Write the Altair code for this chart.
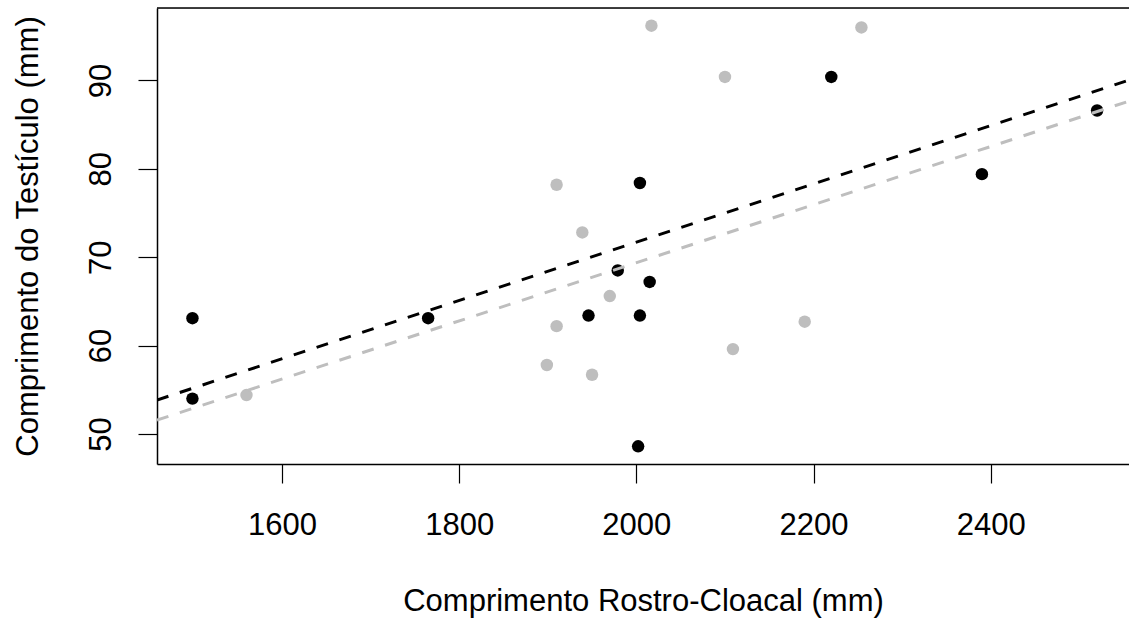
import altair as alt
import pandas as pd

# Data
black_x = [1499, 1499, 1765, 1946, 1979, 2004, 2004, 2015, 2002, 2220, 2390, 2520]
black_y = [63.1, 54.0, 63.1, 63.4, 68.5, 78.4, 63.4, 67.2, 48.6, 90.4, 79.4, 86.6]
gray_x = [1560, 1899, 1910, 1910, 1939, 1950, 1970, 2017, 2100, 2109, 2190, 2254]
gray_y = [54.4, 57.8, 62.2, 78.2, 72.8, 56.7, 65.6, 96.2, 90.4, 59.6, 62.7, 96.0]

groups = ["preto", "cinza"]
colors = ["#000000", "#BEBEBE"]
fit_intercept = [5.70, 3.57]
fit_slope = [0.0330, 0.0329]

x_domain = [1459, 2556]
y_domain = [46.6, 98.2]
x_ticks = [1600, 1800, 2000, 2200, 2400]
y_ticks = [50, 60, 70, 80, 90]

W, H = 972, 456
FONT = "Liberation Sans"
FS = 31

pts = pd.DataFrame(
    {"x": black_x + gray_x,
     "y": black_y + gray_y,
     "g": ["preto"] * len(black_x) + ["cinza"] * len(gray_x)}
)

rows = []
for g, a, b in zip(groups, fit_intercept, fit_slope):
    for xv in x_domain:
        rows.append({"x": xv, "y": a + b * xv, "g": g})
lines = pd.DataFrame(rows)

xs = alt.Scale(domain=x_domain, nice=False, zero=False)
ys = alt.Scale(domain=y_domain, nice=False, zero=False)
cs = alt.Scale(domain=groups, range=colors)

x_axis = alt.Axis(
    values=x_ticks, format="d", title="Comprimento Rostro-Cloacal (mm)", grid=False,
    domainColor="#000000", domainWidth=1.5, tickColor="#000000", tickWidth=1.2,
    tickSize=19, labelPadding=27, labelFont=FONT, labelFontSize=FS,
    labelColor="#000000", labelBaseline="top",
    titleFont=FONT, titleFontSize=FS, titleFontWeight="normal", titleColor="#000000",
    titleX=486, titleY=137, titleBaseline="middle", titleAlign="center",
)
y_axis = alt.Axis(
    values=y_ticks, format="d", title="Comprimento do Testículo (mm)", grid=False,
    domainColor="#000000", domainWidth=1.5, tickColor="#000000", tickWidth=1.2,
    tickSize=19, labelPadding=28, labelFont=FONT, labelFontSize=FS,
    labelColor="#000000", labelAngle=270, labelAlign="center", labelBaseline="alphabetic",
    titleFont=FONT, titleFontSize=FS, titleFontWeight="normal", titleColor="#000000",
    titleX=-129, titleY=228, titleAngle=270, titleBaseline="middle", titleAlign="center",
)

points = alt.Chart(pts).mark_circle(size=155, opacity=1).encode(
    x=alt.X("x:Q", scale=xs, axis=x_axis),
    y=alt.Y("y:Q", scale=ys, axis=y_axis),
    color=alt.Color("g:N", scale=cs, legend=None),
)

fit = alt.Chart(lines).mark_line(strokeWidth=3, strokeDash=[12, 12], clip=True).encode(
    x=alt.X("x:Q", scale=xs),
    y=alt.Y("y:Q", scale=ys),
    color=alt.Color("g:N", scale=cs, legend=None),
    detail="g:N",
)

top = alt.Chart(pd.DataFrame({"k": [0]})).mark_rule(color="#000000", strokeWidth=1.5).encode(
    x=alt.value(0), x2=alt.value(W), y=alt.value(0)
)

chart = alt.layer(points, fit, top).properties(
    width=W, height=H,
    autosize=alt.AutoSizeParams(type="none"),
    padding={"left": 157, "top": 8, "right": 0, "bottom": 154},
).configure_view(stroke=None).configure(background="white")

chart.save("out.html", embed_options={"renderer": "svg", "actions": False})
